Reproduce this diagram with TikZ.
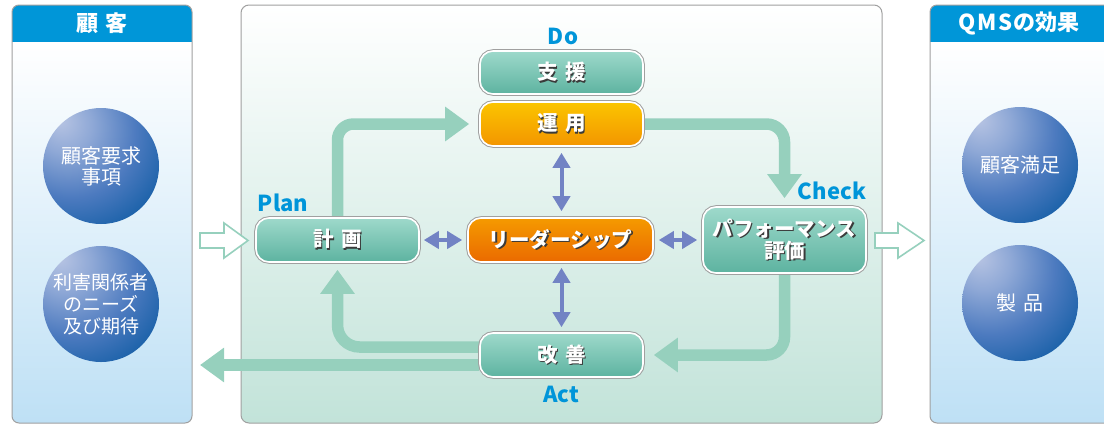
\documentclass[tikz,border=0pt]{standalone}
\usepackage{fontspec}
\setmainfont{Noto Sans CJK JP}
\usetikzlibrary{arrows.meta}
\definecolor{hdrblue}{HTML}{0096D8}
\definecolor{lblblue}{HTML}{0095D9}
\definecolor{flowc}{HTML}{96D0BD}
\definecolor{dblc}{HTML}{7283C4}
\definecolor{tealtop}{HTML}{9ED9CB}
\definecolor{tealbot}{HTML}{5DB3A0}
\definecolor{orgtop}{HTML}{FBC500}
\definecolor{orgbot}{HTML}{F39500}
\definecolor{ldrtop}{HTML}{F59A00}
\definecolor{ldrbot}{HTML}{EA6A00}
\definecolor{sideb}{HTML}{BEE0F5}
\definecolor{midb}{HTML}{C2E3D9}
\definecolor{bordc}{HTML}{A0A0A0}
\definecolor{shdc}{HTML}{3A3A3A}
\pgfdeclarelayer{bg}
\pgfsetlayers{bg,main}
\pgfdeclareradialshading{bluesphere}{\pgfpoint{-18bp}{20bp}}{%
  rgb(0bp)=(0.72,0.77,0.89);
  rgb(12bp)=(0.56,0.66,0.84);
  rgb(28bp)=(0.30,0.48,0.75);
  rgb(42bp)=(0.10,0.38,0.66);
  rgb(50bp)=(0.03,0.33,0.62);
  rgb(100bp)=(0.03,0.33,0.62)}
\newcommand\shd[1]{\leavevmode\rlap{\kern1.5pt\raisebox{-1.5pt}{\textcolor{shdc}{#1}}}\textcolor{white}{#1}}
\tikzset{
  boxnode/.style={rounded corners=13pt, minimum width=163pt, minimum height=44pt,
    inner sep=0pt, preaction={draw=bordc, line width=3.6pt}, draw=white, line width=1.6pt,
    font=\fontsize{20.5}{22}\selectfont\bfseries, align=center,
    top color=tealtop, bottom color=tealbot},
  orangebox/.style={boxnode, top color=orgtop, bottom color=orgbot},
  leaderbox/.style={boxnode, top color=ldrtop, bottom color=ldrbot},
  flow/.style={draw=flowc, line width=11.5pt, -{Triangle[width=33pt,length=24pt]}},
  dbl/.style={draw=dblc, line width=4pt,
    {Triangle[width=17pt,length=15pt]}-{Triangle[width=17pt,length=15pt]}},
  hollow/.style={draw=flowc, line width=1.6pt, fill=white, line join=miter},
  phase/.style={text=lblblue, font=\fontsize{22}{26}\selectfont\bfseries, inner sep=0pt},
  ball/.style={circle, minimum size=116pt, inner sep=0pt, shading=bluesphere,
    text=white, align=center, font=\fontsize{20}{21}\selectfont},
  hdr/.style={text=white, font=\fontsize{22}{24}\selectfont\bfseries, inner sep=0pt},
  panelborder/.style={draw=bordc, line width=1pt}
}
\begin{document}
\begin{tikzpicture}[x=1pt, y=-1pt]
\useasboundingbox (0,0) rectangle (1104,424);
\begin{pgfonlayer}{bg}
% ---- side panels ----
\begin{scope}
  \clip[rounded corners=7pt] (12,5) rectangle (192,423);
  \path[top color=white, bottom color=sideb] (12,42) rectangle (192,423);
  \fill[hdrblue] (12,5) rectangle (192,42);
\end{scope}
\draw[panelborder, rounded corners=7pt] (12,5) rectangle (192,423);
\begin{scope}
  \clip[rounded corners=7pt] (930,5) rectangle (1125,423);
  \path[top color=white, bottom color=sideb] (930,42) rectangle (1125,423);
  \fill[hdrblue] (930,5) rectangle (1125,42);
\end{scope}
\draw[panelborder, rounded corners=7pt] (930,5) rectangle (1125,423);
% ---- middle panel ----
\path[panelborder, rounded corners=8pt, top color=white, bottom color=midb] (241,5) rectangle (882,423);
\end{pgfonlayer}
\node[hdr] (hleft) at (102,23) {顧\hspace{0.3em}客};
\node[hdr] (hright) at (1019,23) {Q\kern1.5pt M\kern1.5pt S\kern1pt の効果};
% ---- balls ----
\node[ball] (c1) at (101,166) {顧客要求\\事項};
\node[ball, font=\fontsize{19}{22}\selectfont] (c2) at (101,304) {利害関係者\\のニーズ\\及び期待};
\node[ball] (c3) at (1020,165) {顧客満足};
\node[ball] (c4) at (1020,303) {製\hspace{0.4em}品};
% ---- hollow arrows ----
\draw[hollow] (200,233) -- (224,233) -- (224,223) -- (248,240.5) -- (224,258) -- (224,248) -- (200,248) -- cycle;
\draw[hollow] (875,233) -- (898,233) -- (898,223) -- (924,240.5) -- (898,258) -- (898,248) -- (875,248) -- cycle;
% ---- boxes ----
\node[boxnode, minimum height=43pt] (shien) at (561.5,72.5) {\shd{支\hspace{0.35em}援}};
\node[orangebox] (unyo) at (561.5,124) {\shd{運\hspace{0.35em}用}};
\node[boxnode] (keikaku) at (337.5,240) {\shd{計\hspace{0.35em}画}};
\node[leaderbox, minimum width=185pt] (leader) at (560.5,240) {\shd{リーダーシップ}};
\node[boxnode, minimum height=66pt] (perf) at (784.5,240) {\shd{パフォーマンス}\\\shd{評価}};
\node[boxnode] (kaizen) at (561.5,355) {\shd{改\hspace{0.35em}善}};
% ---- flow arrows (behind boxes) ----
\coordinate (actout) at (200,365);
\begin{pgfonlayer}{bg}
\draw[flow, rounded corners=16pt, shorten >=10pt] (keikaku.north) |- (unyo.west);
\draw[flow, rounded corners=18pt, shorten >=8pt] (unyo.east) -| (perf.north);
\draw[flow, rounded corners=18pt, shorten >=10pt] (perf.south) |- (kaizen.east);
\draw[flow, rounded corners=22pt, shorten >=7pt] ([yshift=8pt]kaizen.west) -| (keikaku.south);
\draw[flow] ([yshift=-10pt]kaizen.west) -- (actout);
\end{pgfonlayer}
% ---- double arrows ----
\draw[dbl, shorten <=6pt, shorten >=6pt] (unyo.south) -- (unyo.south |- leader.north);
\draw[dbl, shorten <=5pt, shorten >=5pt] (leader.south -| unyo.south) -- (kaizen.north);
\draw[dbl, shorten <=4pt, shorten >=5pt] (keikaku.east) -- (leader.west);
\draw[dbl, shorten <=5pt, shorten >=5pt] (leader.east) -- (perf.west);
% ---- phase labels ----
\node[phase] (ldo) at (563,36) {Do};
\node[phase] (lplan) at (283,203) {Plan};
\node[phase] (lcheck) at (832,191) {Check};
\node[phase] (lact) at (561,394) {Act};
\end{tikzpicture}
\end{document}
